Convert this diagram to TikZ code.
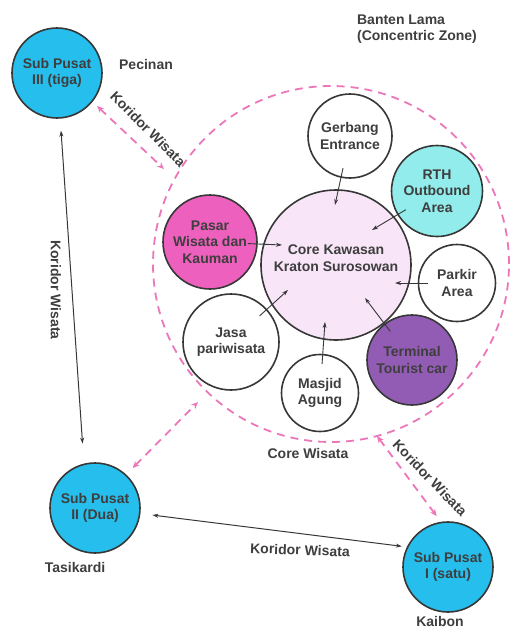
\documentclass[tikz,border=0pt]{standalone}
\usepackage{fontspec}
\setmainfont{Liberation Sans}
\usetikzlibrary{arrows.meta}
\definecolor{cyanA}{RGB}{38,190,236}
\definecolor{cyanL}{RGB}{146,236,236}
\definecolor{magA}{RGB}{238,96,190}
\definecolor{purA}{RGB}{146,92,180}
\definecolor{coreF}{RGB}{248,230,248}
\definecolor{pinkD}{RGB}{236,118,186}
\definecolor{txt}{RGB}{62,62,62}
\definecolor{edge}{RGB}{55,55,55}
\begin{document}
\begin{tikzpicture}[x=1pt,y=-1pt,
  every node/.style={font=\fontsize{14}{16.5}\selectfont\bfseries, text=txt, align=center},
  bub/.style={circle, draw=edge, line width=1.6pt, inner sep=0pt, minimum size=#1},
  zonestyle/.style={circle, draw=pinkD, line width=1.8pt, dash pattern=on 8pt off 6pt, inner sep=0pt, minimum size=#1},
  inarr/.style={draw=edge, line width=0.9pt, -{Stealth[length=6pt,width=4pt]}, shorten <=-10pt},
  blkarr/.style={draw=edge, line width=1pt, {Stealth[length=6pt,width=4pt]}-{Stealth[length=6pt,width=4pt]}},
  pinkarr/.style={draw=pinkD, line width=1.8pt, dash pattern=on 8pt off 6pt, {Stealth[length=7pt,width=6pt]}-{Stealth[length=7pt,width=6pt]}}
]
\useasboundingbox (0,0) rectangle (513,629);

% zone
\node[zonestyle=356pt] (zone) at (331,264) {};

% satellites
\node[bub=90pt, fill=cyanA] (sp3) at (57,73) {Sub Pusat\\III (tiga)};
\node[bub=90pt, fill=cyanA] (sp2) at (95,508) {Sub Pusat\\II (Dua)};
\node[bub=90pt, fill=cyanA] (sp1) at (448,567) {Sub Pusat\\I (satu)};

% core and surrounding
\node[bub=150pt, fill=coreF] (core) at (336,265) {};
\node at (336,258) (coretxt) {Core Kawasan\\Kraton Surosowan};
\node[bub=84pt, fill=white] (gerbang) at (350,136) {Gerbang\\Entrance};
\node[bub=91pt, fill=cyanL] (rth) at (437,191) {RTH\\Outbound\\Area};
\node[bub=94pt, fill=magA] (pasar) at (210,242) {Pasar\\Wisata dan\\Kauman};
\node[bub=77pt, fill=white] (parkir) at (457,283) {Parkir\\Area};
\node[bub=96pt, fill=white] (jasa) at (231,342) {Jasa\\pariwisata};
\node[bub=77pt, fill=white] (masjid) at (320,393) {Masjid\\Agung};
\node[bub=90pt, fill=purA] (terminal) at (412,360) {Terminal\\Tourist car};

% inner arrow targets
\coordinate (cg) at (335,205);
\coordinate (crth) at (372,230);
\coordinate (cpas) at (282,245);
\coordinate (cpar) at (395,283);
\coordinate (cjas) at (288,290);
\coordinate (cmas) at (325,322);
\coordinate (cter) at (365,298);
\draw[inarr] (gerbang) -- (cg);
\draw[inarr] (rth) -- (crth);
\draw[inarr] (pasar) -- (cpas);
\draw[inarr] (parkir) -- (cpar);
\draw[inarr] (jasa) -- (cjas);
\draw[inarr] (masjid) -- (cmas);
\draw[inarr] (terminal) -- (cter);

% corridor arrows
\coordinate (z1) at (164,169);
\coordinate (z2) at (198,402);
\coordinate (z3) at (377,436);
\draw[pinkarr, shorten <=6pt] (sp3.-39) -- (z1);
\draw[pinkarr, shorten <=9pt] (sp2.47) -- (z2);
\draw[pinkarr, shorten >=7pt] (z3) -- (sp1.99);
\draw[blkarr, shorten <=12pt, shorten >=20pt] (sp3.-86) -- (sp2.104);
\draw[blkarr, shorten <=12pt, shorten >=5pt] (sp2.-7) -- (sp1.154);

% labels
\node[align=left] (banten) at (417,29) {Banten Lama\\(Concentric Zone)};
\node (pecinan) at (146,64) {Pecinan};
\node[rotate=-45] (kw1) at (148,129) {Koridor Wisata};
\node[rotate=-90] (kw2) at (56,290) {Koridor Wisata};
\node[rotate=-46] (kw3) at (430,478) {Koridor Wisata};
\node[rotate=-2] (kw4) at (300,550) {Koridor Wisata};
\node (corew) at (308,453) {Core Wisata};
\node (tasik) at (75,567) {Tasikardi};
\node (kaibon) at (440,621) {Kaibon};
\end{tikzpicture}
\end{document}
